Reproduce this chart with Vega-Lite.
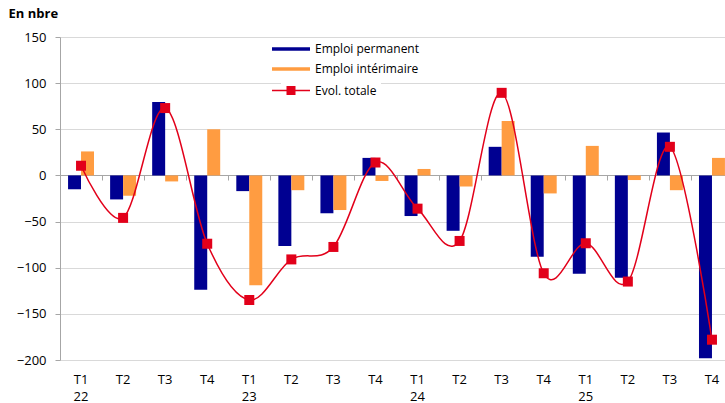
{
  "$schema": "https://vega.github.io/schema/vega-lite/v6.json",
  "autosize": "none",
  "width": 673,
  "height": 323,
  "padding": {"left": 60, "top": 37, "right": 0, "bottom": 43},
  "background": "white",
  "config": {
    "font": "Open Sans",
    "view": {"stroke": null},
    "axis": {"labelColor": "#000000", "titleColor": "#000000"}
  },
  "datasets": {
    "emplois": [
      {"q": "T1 22", "serie": "Emploi permanent", "value": -15},
      {"q": "T1 22", "serie": "Emploi intérimaire", "value": 26},
      {"q": "T2 22", "serie": "Emploi permanent", "value": -26},
      {"q": "T2 22", "serie": "Emploi intérimaire", "value": -22},
      {"q": "T3 22", "serie": "Emploi permanent", "value": 79.5},
      {"q": "T3 22", "serie": "Emploi intérimaire", "value": -6.5},
      {"q": "T4 22", "serie": "Emploi permanent", "value": -124},
      {"q": "T4 22", "serie": "Emploi intérimaire", "value": 50},
      {"q": "T1 23", "serie": "Emploi permanent", "value": -17},
      {"q": "T1 23", "serie": "Emploi intérimaire", "value": -119},
      {"q": "T2 23", "serie": "Emploi permanent", "value": -76.5},
      {"q": "T2 23", "serie": "Emploi intérimaire", "value": -16},
      {"q": "T3 23", "serie": "Emploi permanent", "value": -41},
      {"q": "T3 23", "serie": "Emploi intérimaire", "value": -37.5},
      {"q": "T4 23", "serie": "Emploi permanent", "value": 19},
      {"q": "T4 23", "serie": "Emploi intérimaire", "value": -6},
      {"q": "T1 24", "serie": "Emploi permanent", "value": -44},
      {"q": "T1 24", "serie": "Emploi intérimaire", "value": 7},
      {"q": "T2 24", "serie": "Emploi permanent", "value": -60},
      {"q": "T2 24", "serie": "Emploi intérimaire", "value": -12},
      {"q": "T3 24", "serie": "Emploi permanent", "value": 31},
      {"q": "T3 24", "serie": "Emploi intérimaire", "value": 59},
      {"q": "T4 24", "serie": "Emploi permanent", "value": -88},
      {"q": "T4 24", "serie": "Emploi intérimaire", "value": -19.5},
      {"q": "T1 25", "serie": "Emploi permanent", "value": -106.5},
      {"q": "T1 25", "serie": "Emploi intérimaire", "value": 32},
      {"q": "T2 25", "serie": "Emploi permanent", "value": -111},
      {"q": "T2 25", "serie": "Emploi intérimaire", "value": -5},
      {"q": "T3 25", "serie": "Emploi permanent", "value": 46.5},
      {"q": "T3 25", "serie": "Emploi intérimaire", "value": -16},
      {"q": "T4 25", "serie": "Emploi permanent", "value": -198},
      {"q": "T4 25", "serie": "Emploi intérimaire", "value": 19}
    ],
    "totals": [
      {"q": "T1 22", "total": 10.5},
      {"q": "T2 22", "total": -46},
      {"q": "T3 22", "total": 73},
      {"q": "T4 22", "total": -74},
      {"q": "T1 23", "total": -135},
      {"q": "T2 23", "total": -91},
      {"q": "T3 23", "total": -77.5},
      {"q": "T4 23", "total": 14},
      {"q": "T1 24", "total": -36},
      {"q": "T2 24", "total": -71},
      {"q": "T3 24", "total": 89.5},
      {"q": "T4 24", "total": -106},
      {"q": "T1 25", "total": -73.5},
      {"q": "T2 25", "total": -115},
      {"q": "T3 25", "total": 31},
      {"q": "T4 25", "total": -178}
    ]
  },
  "layer": [
    {
      "data": {"name": "emplois"},
      "mark": {"type": "bar"},
      "encoding": {
        "x": {
          "field": "q",
          "type": "nominal",
          "sort": null,
          "scale": {"paddingInner": 0, "paddingOuter": 0},
          "axis": {
            "orient": "bottom",
            "title": null,
            "domain": false,
            "ticks": false,
            "tickSize": 0,
            "labelAngle": 0,
            "labelPadding": 13,
            "labelFontSize": 13,
            "labelLineHeight": 17,
            "labelBaseline": "top",
            "labelExpr": "indexof(datum.value, 'T1') == 0 ? split(datum.value, ' ') : slice(datum.value, 0, 2)"
          }
        },
        "xOffset": {
          "field": "serie",
          "type": "nominal",
          "sort": ["Emploi permanent", "Emploi intérimaire"],
          "scale": {"paddingInner": 0, "paddingOuter": 0.62}
        },
        "y": {
          "field": "value",
          "type": "quantitative",
          "scale": {"domain": [-200, 150], "nice": false},
          "axis": {
            "values": [-200, -150, -100, -50, 0, 50, 100, 150],
            "title": "En nbre",
            "titleAngle": 0,
            "titleAlign": "left",
            "titleBaseline": "middle",
            "titleX": -52,
            "titleY": -24,
            "titleFontSize": 13,
            "titleFontWeight": "bold",
            "labelFontSize": 13,
            "labelPadding": 9,
            "tickSize": 5,
            "domainColor": "#a6a6a6",
            "tickColor": "#a6a6a6",
            "gridColor": "#d9d9d9"
          }
        },
        "fill": {
          "field": "serie",
          "type": "nominal",
          "scale": {
            "domain": ["Emploi permanent", "Emploi intérimaire"],
            "range": ["#000091", "#FF9C41"]
          },
          "legend": {
            "title": null,
            "orient": "none",
            "legendX": 225,
            "legendY": 6,
            "padding": 0,
            "symbolType": "M-3.8,-0.35H3.8V0.35H-3.8Z",
            "symbolSize": 100,
            "labelFontSize": 12,
            "labelOffset": 18,
            "rowPadding": 8
          }
        }
      }
    },
    {
      "data": {"name": "totals"},
      "mark": {"type": "line", "interpolate": "cardinal", "color": "#E2001A", "strokeWidth": 1.5},
      "encoding": {
        "x": {
          "field": "q",
          "type": "nominal",
          "sort": null,
          "axis": {
            "orient": "bottom",
            "offset": -185,
            "title": null,
            "labels": false,
            "grid": false,
            "domain": true,
            "domainColor": "#a6a6a6",
            "ticks": true,
            "tickBand": "extent",
            "tickSize": 5,
            "tickColor": "#a6a6a6"
          }
        },
        "y": {"field": "total", "type": "quantitative"},
        "stroke": {
          "datum": "Evol. totale",
          "scale": {"range": ["#E2001A"]},
          "legend": {
            "title": null,
            "orient": "none",
            "legendX": 221,
            "legendY": 43.5,
            "padding": 4,
            "fillColor": "white",
            "symbolType": "M-3.8,0H3.8M-0.75,-0.75H0.75V0.75H-0.75Z",
            "symbolSize": 100,
            "symbolFillColor": "#E2001A",
            "symbolStrokeWidth": 1.5,
            "labelFontSize": 12,
            "labelOffset": 18
          }
        }
      }
    },
    {
      "data": {"name": "totals"},
      "mark": {"type": "square", "size": 100, "color": "#E2001A", "opacity": 1},
      "encoding": {
        "x": {"field": "q", "type": "nominal", "sort": null, "axis": null},
        "y": {"field": "total", "type": "quantitative"}
      }
    }
  ],
  "resolve": {"axis": {"x": "independent"}}
}
